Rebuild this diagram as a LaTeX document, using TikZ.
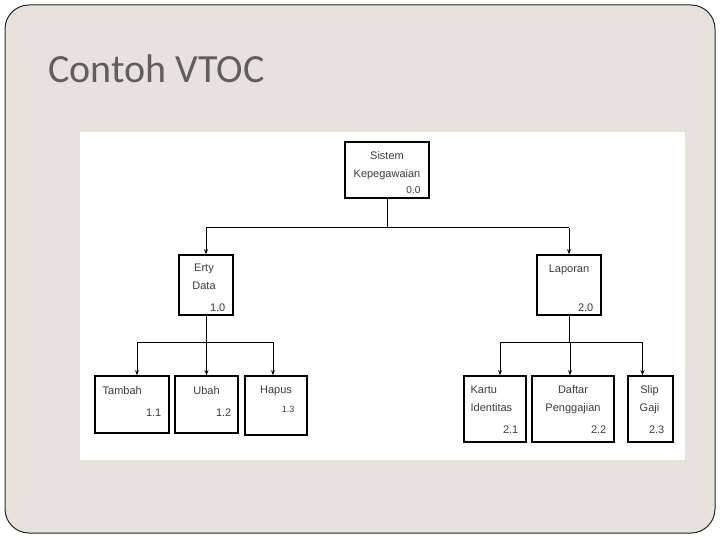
\documentclass[tikz,border=0pt]{standalone}
\usepackage{fontspec}
\setmainfont{Liberation Sans}
\newfontfamily\titlefont{Carlito}
\usetikzlibrary{arrows.meta}
\definecolor{slidebg}{RGB}{231,227,220}
\definecolor{slideline}{RGB}{40,40,40}
\definecolor{titlegray}{RGB}{98,94,90}
\definecolor{boxtext}{RGB}{60,60,60}

\tikzset{
  box/.style={draw=black,line width=1.7pt,fill=white,inner sep=0pt},
  lbl/.style={text=boxtext,font=\fontsize{11}{18}\selectfont,inner sep=0pt},
  num/.style={text=boxtext,font=\fontsize{11}{12}\selectfont,inner sep=0pt,anchor=south east}
}

\begin{document}
\begin{tikzpicture}[x=1pt,y=-1pt,line width=1pt,>={Stealth[length=5pt,width=4pt]}]
  \useasboundingbox (0,0) rectangle (720,540);
  % slide
  \draw[slideline,fill=slidebg,rounded corners=24pt] (5,5) rectangle (715,533);
  \node[anchor=base west,text=titlegray,font=\titlefont\fontsize{40}{44}\selectfont,inner sep=0pt] (title) at (48,83) {Contoh VTOC};
  \fill[white] (80,132) rectangle (685,460);

  % level 0
  \node[box,minimum width=84,minimum height=56] (root) at (387,170) {};
  \node[lbl,anchor=north,align=center] (root-t) at ([yshift=-10pt]root.north) {Sistem\\Kepegawaian};
  \node[num,font=\fontsize{10}{12}\selectfont] (root-n) at ([xshift=-9pt,yshift=5pt]root.south east) {0.0};

  % level 1
  \node[box,minimum width=54,minimum height=60] (entry) at (206,285) {};
  \node[lbl,anchor=north,align=center] (entry-t) at ([xshift=-2pt,yshift=-9pt]entry.north) {Erty\\Data};
  \node[num] (entry-n) at ([xshift=-8pt,yshift=4pt]entry.south east) {1.0};

  \node[box,minimum width=64,minimum height=60] (lap) at (569,285) {};
  \node[lbl,anchor=north] (lap-t) at ([yshift=-10pt]lap.north) {Laporan};
  \node[num] (lap-n) at ([xshift=-8pt,yshift=4pt]lap.south east) {2.0};

  % level 2 left
  \node[box,minimum width=74,minimum height=57] (tambah) at (132,404.5) {};
  \node[lbl,anchor=north west] (tambah-t) at ([xshift=8pt,yshift=-11pt]tambah.north west) {Tambah};
  \node[num] (tambah-n) at ([xshift=-8pt,yshift=17pt]tambah.south east) {1.1};

  \node[box,minimum width=63,minimum height=57] (ubah) at (206.5,404.5) {};
  \node[lbl,anchor=north] (ubah-t) at ([yshift=-11pt]ubah.north) {Ubah};
  \node[num] (ubah-n) at ([xshift=-7pt,yshift=17pt]ubah.south east) {1.2};

  \node[box,minimum width=62,minimum height=59] (hapus) at (276,405.5) {};
  \node[lbl,anchor=north] (hapus-t) at ([yshift=-10pt]hapus.north) {Hapus};
  \node[num,font=\fontsize{9}{10}\selectfont] (hapus-n) at ([xshift=-13pt,yshift=23pt]hapus.south east) {1.3};

  % level 2 right
  \node[box,minimum width=62,minimum height=66] (kartu) at (495,409) {};
  \node[lbl,anchor=north west,align=left] (kartu-t) at ([xshift=7pt,yshift=-10pt]kartu.north west) {Kartu\\Identitas};
  \node[num] (kartu-n) at ([xshift=-8pt,yshift=9pt]kartu.south east) {2.1};

  \node[box,minimum width=82,minimum height=66] (daftar) at (573,409) {};
  \node[lbl,anchor=north,align=center] (daftar-t) at ([yshift=-10pt]daftar.north) {Daftar\\Penggajian};
  \node[num] (daftar-n) at ([xshift=-8pt,yshift=9pt]daftar.south east) {2.2};

  \node[box,minimum width=45,minimum height=66] (slip) at (650.5,409) {};
  \node[lbl,anchor=north,align=center] (slip-t) at ([xshift=-1pt,yshift=-10pt]slip.north) {Slip\\Gaji};
  \node[num] (slip-n) at ([xshift=-9pt,yshift=9pt]slip.south east) {2.3};

  % connectors
  \coordinate (bus0) at (387,228);
  \draw (root.south) -- (bus0);
  \draw (entry.north |- bus0) -- (lap.north |- bus0);
  \draw[->] (entry.north |- bus0) -- (entry.north);
  \draw[->] (lap.north |- bus0) -- (lap.north);

  \coordinate (bus1) at (206,342);
  \draw (entry.south) -- (bus1);
  \draw ([xshift=5pt]tambah.north |- bus1) -- ([xshift=-3pt]hapus.north |- bus1);
  \draw[->] ([xshift=5pt]tambah.north |- bus1) -- ([xshift=5pt]tambah.north);
  \draw[->] (ubah.north |- bus1) -- (ubah.north);
  \draw[->] ([xshift=-3pt]hapus.north |- bus1) -- ([xshift=-3pt]hapus.north);

  \coordinate (bus2) at (569,342);
  \draw (lap.south) -- (bus2);
  \draw ([xshift=5pt]kartu.north |- bus2) -- ([xshift=-8pt]slip.north |- bus2);
  \draw[->] ([xshift=5pt]kartu.north |- bus2) -- ([xshift=5pt]kartu.north);
  \draw[->] ([xshift=-3pt]daftar.north |- bus2) -- ([xshift=-3pt]daftar.north);
  \draw[->] ([xshift=-8pt]slip.north |- bus2) -- ([xshift=-8pt]slip.north);
\end{tikzpicture}
\end{document}
